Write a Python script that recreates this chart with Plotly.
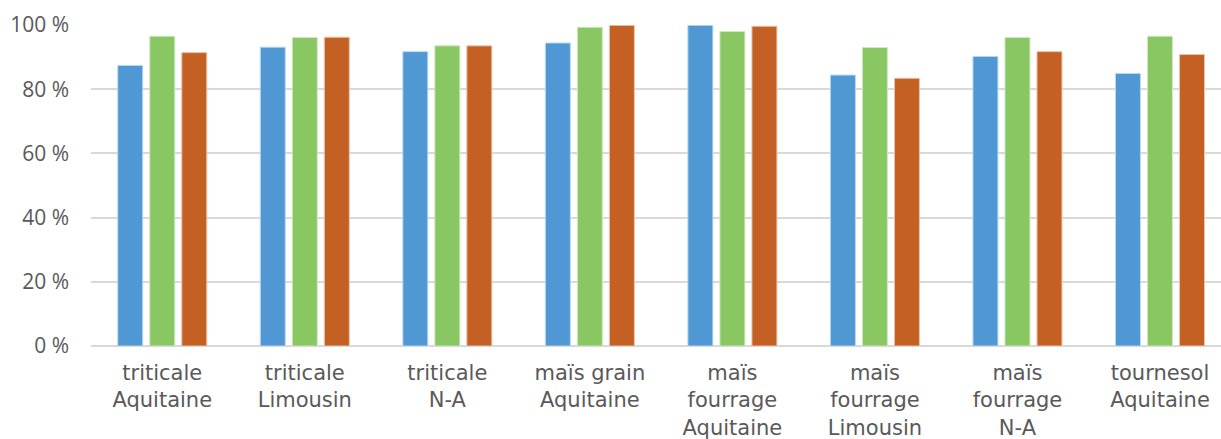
import plotly.graph_objects as go

# Crop / region categories (two- or three-line labels)
categories = [
    "triticale<br>Aquitaine",
    "triticale<br>Limousin",
    "triticale<br>N-A",
    "maïs grain<br>Aquitaine",
    "maïs<br>fourrage<br>Aquitaine",
    "maïs<br>fourrage<br>Limousin",
    "maïs<br>fourrage<br>N-A",
    "tournesol<br>Aquitaine",
]

# Three series, values in percent
series_blue = [87.4, 93.1, 91.7, 94.4, 99.9, 84.4, 90.2, 84.9]
series_green = [96.5, 96.1, 93.5, 99.3, 98.0, 93.0, 96.1, 96.5]
series_orange = [91.4, 96.2, 93.5, 99.9, 99.6, 83.4, 91.7, 90.8]

y_ticks = [0, 20, 40, 60, 80, 100]
y_tick_labels = ["0 %", "20 %", "40 %", "60 %", "80 %", "100 %"]

colors = ["#5098D3", "#89C763", "#C46024"]
edges = ["#BBD7F0", "#CFE8C2", "#EBC2AA"]

fig = go.Figure()
for vals, col, edge in zip([series_blue, series_green, series_orange], colors, edges):
    fig.add_trace(go.Bar(
        x=categories,
        y=vals,
        marker=dict(color=col, line=dict(color=edge, width=1)),
        showlegend=False,
    ))

fig.update_layout(
    width=1221,
    height=439,
    margin=dict(l=91, r=0, t=25, b=93),
    paper_bgcolor="white",
    plot_bgcolor="white",
    barmode="group",
    bargap=0.326,
    bargroupgap=0.22,
    font=dict(family="Open Sans, sans-serif", color="#595959", size=21),
)
fig.update_xaxes(
    range=[-0.5, 7.428],
    showgrid=False,
    showline=False,
    ticks="",
    automargin=False,
    ticklabelstandoff=12,
    tickfont=dict(family="DejaVu Sans, sans-serif", size=21, color="#595959"),
)
fig.update_yaxes(
    range=[0, 100],
    tickvals=y_ticks,
    ticktext=y_tick_labels,
    showgrid=True,
    gridcolor="#D9D9D9",
    gridwidth=2,
    zeroline=True,
    zerolinecolor="#D9D9D9",
    zerolinewidth=2,
    showline=False,
    ticks="",
    automargin=False,
    ticklabelstandoff=21,
    tickfont=dict(size=21, color="#595959"),
)

fig.write_html("out.html")
